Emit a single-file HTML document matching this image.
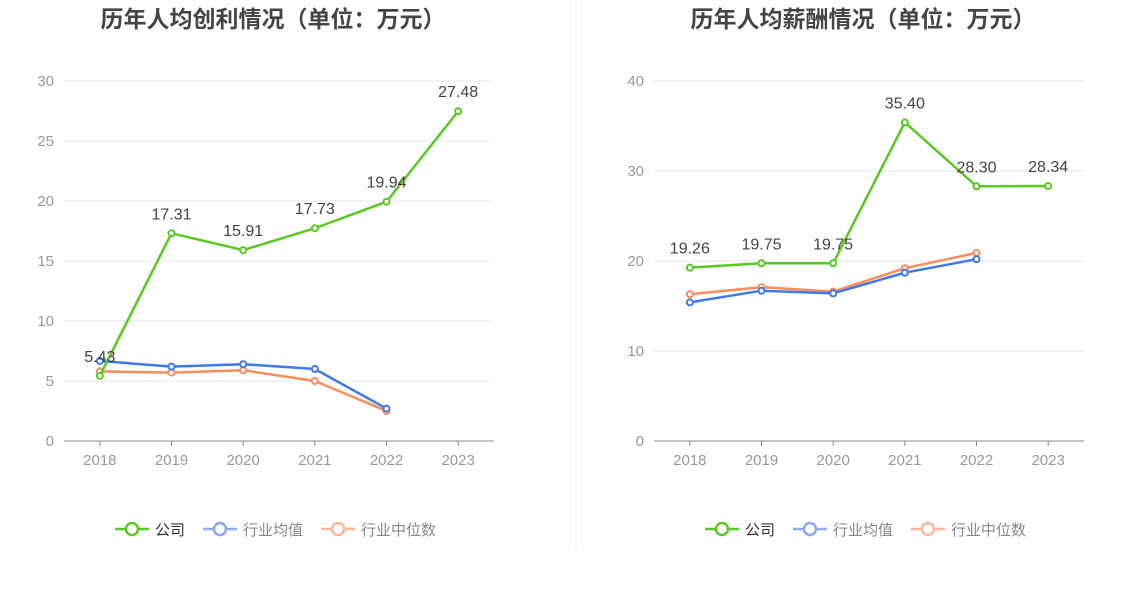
<!DOCTYPE html>
<html><head><meta charset="utf-8">
<style>
body{margin:0;background:#fff;width:1148px;height:589px;overflow:hidden;font-family:"Liberation Sans","Noto Sans CJK SC",sans-serif;}
svg{display:block}
</style></head>
<body>
<svg id="c" width="1148" height="589" xmlns="http://www.w3.org/2000/svg" font-family="Liberation Sans, Noto Sans CJK SC, sans-serif"></svg>
<script>
const categories=['2018','2019','2020','2021','2022','2023'];
const profitCompany=[5.43,17.31,15.91,17.73,19.94,27.48];
const profitAvg=[6.67,6.2,6.4,6.0,2.7];
const profitMedian=[5.8,5.7,5.9,5.0,2.5];
const profitTicks=[0,5,10,15,20,25,30];
const salaryCompany=[19.26,19.75,19.75,35.40,28.30,28.34];
const salaryAvg=[15.4,16.7,16.4,18.7,20.2];
const salaryMedian=[16.3,17.1,16.6,19.2,20.9];
const salaryTicks=[0,10,20,30,40];

const svg=document.getElementById('c');
const NS='http://www.w3.org/2000/svg';
function mk(tag,attrs,parent,text){const e=document.createElementNS(NS,tag);for(const k in attrs)e.setAttribute(k,attrs[k]);if(text!==undefined)e.textContent=text;(parent||svg).appendChild(e);return e;}

const div=mk('line',{x1:576,y1:0,x2:576,y2:550,stroke:'#eeeeee'});



function panel(name,title,x0,x1,ticks,maxV,comp,avg,med){
  const g=mk('g',{});
  
  
  const y0=441,yTop=81;
  const sy=v=>y0-(v/maxV)*(y0-yTop);
  const bw=(x1-x0)/categories.length;
  const sx=i=>x0+bw*(i+0.5);
  const t=mk('text',{x:(x0+x1)/2-6,y:27,'text-anchor':'middle','font-size':23,'font-weight':'bold',fill:'#444'},g,title);
  
  
  ticks.forEach(v=>{
    if(v>0){const l=mk('line',{x1:x0,x2:x1,y1:sy(v),y2:sy(v),stroke:'#e6e8f0'},g);
      
      }
    const tl=mk('text',{x:x0-10,y:sy(v)+5,'text-anchor':'end','font-size':15,fill:'#999'},g,String(v));
    
    
  });
  const ax=mk('line',{x1:x0,x2:x1,y1:y0,y2:y0,stroke:'#888'},g);
  
  
  categories.forEach((c,i)=>{
    const tk=mk('line',{x1:sx(i),x2:sx(i),y1:y0,y2:y0+5,stroke:'#888'},g);
    
    
    const tl=mk('text',{x:sx(i),y:y0+24,'text-anchor':'middle','font-size':15,fill:'#999'},g,c);
    
    
  });
  function series(data,color,sname,labels){
    const pts=data.map((v,i)=>sx(i)+','+sy(v)).join(' ');
    const pl=mk('polyline',{points:pts,fill:'none',stroke:color,'stroke-width':2.5},g);
    
    
    data.forEach((v,i)=>{
      const c=mk('circle',{cx:sx(i),cy:sy(v),r:3,fill:'#fff',stroke:color,'stroke-width':2},g);
      
      
      if(labels){
        const l=mk('text',{x:sx(i),y:sy(v)-14,'text-anchor':'middle','font-size':16,fill:'#444'},g,v.toFixed(2));
        
        
      }
    });
  }
  series(med,'#f98d5f','median',false);
  series(avg,'#3f79e8','average',false);
  series(comp,'#5ac822','company',true);
  const lx=(x0+x1)/2-164;
  const items=[['公司','#5ac822','#333'],['行业均值','#8daaf0','#888'],['行业中位数','#fbb79a','#888']];
  let cx=lx;
  items.forEach(([n,col,tc])=>{
    const lg=mk('g',{},g);
    
    
    mk('line',{x1:cx,x2:cx+34,y1:529,y2:529,stroke:col,'stroke-width':2.5},lg);
    mk('circle',{cx:cx+17,cy:529,r:6,fill:'#fff',stroke:col,'stroke-width':2.5},lg);
    mk('text',{x:cx+40,y:535,'font-size':15,fill:tc},lg,n);
    cx+=40+n.length*15+18;
  });
}
panel('profit-chart','历年人均创利情况（单位：万元）',64,494,profitTicks,30,profitCompany,profitAvg,profitMedian);
panel('salary-chart','历年人均薪酬情况（单位：万元）',654,1084,salaryTicks,40,salaryCompany,salaryAvg,salaryMedian);
</script>
</body></html>
